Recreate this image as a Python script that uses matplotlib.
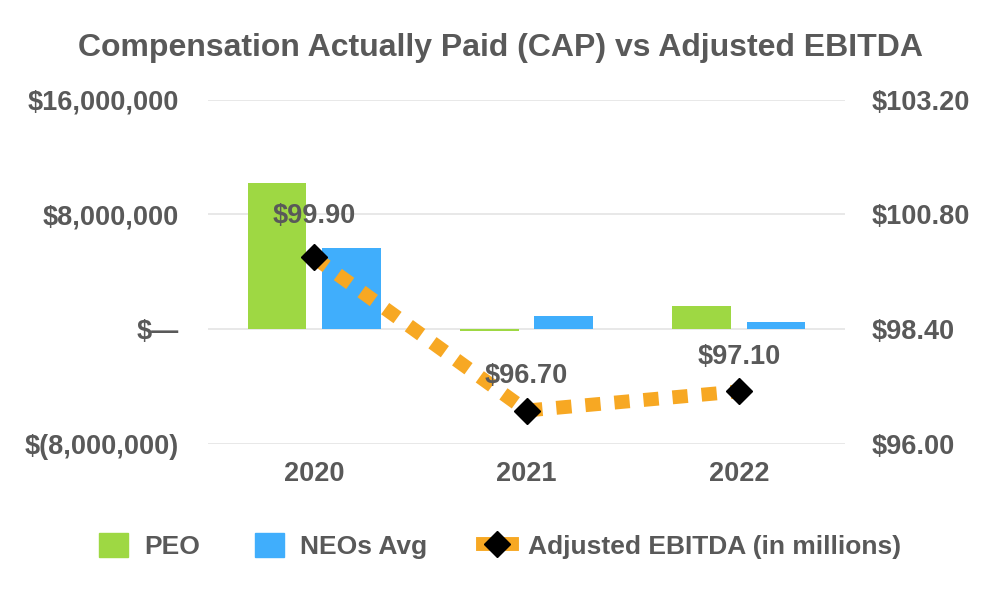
import numpy as np
import matplotlib.pyplot as plt
from matplotlib.lines import Line2D
from matplotlib.patches import Patch

# data
years = ['2020', '2021', '2022']
peo = [10200000, -120000, 1600000]
neos_avg = [5650000, 900000, 480000]
ebitda = [99.90, 96.70, 97.10]
ebitda_labels = ['$99.90', '$96.70', '$97.10']

left_ticks = [-8000000, 0, 8000000, 16000000]
left_labels = ['$(8,000,000)', '$\u2014', '$8,000,000', '$16,000,000']
right_ticks = [96.00, 98.40, 100.80, 103.20]
right_labels = ['$96.00', '$98.40', '$100.80', '$103.20']

green = '#9ED843'
blue = '#40AEFC'
orange = '#F7A823'
grey = '#595959'

plt.rcParams['font.family'] = ['Liberation Sans', 'DejaVu Sans']
plt.rcParams['font.weight'] = 'bold'

fig = plt.figure(figsize=(10, 6), dpi=100)
ax = fig.add_axes([0.208, 0.26, 0.637, 0.574])
x = np.arange(len(years))
w = 0.275

ax.bar(x - 0.175, peo, w, color=green, zorder=2)
ax.bar(x + 0.175, neos_avg, w, color=blue, zorder=2)
ax.set_ylim(-8000000, 16000000)
ax.set_xlim(-0.5, 2.5)
ax.set_yticks(left_ticks)
ax.set_yticklabels(left_labels)
ax.set_xticks(x)
ax.set_xticklabels(years)
ax.grid(axis='y', color='#E4E4E4', lw=1.2, zorder=0)
for s in ax.spines.values():
    s.set_visible(False)
ax.tick_params(length=0, labelsize=19.5, labelcolor=grey, pad=21)
ax.tick_params(axis='x', pad=12)

ax2 = ax.twinx()
ax2.plot(x, ebitda, color=orange, lw=10, ls=(0, (1.1, 1.0)), zorder=3)
ax2.plot(x, ebitda, ls='none', marker='D', ms=13, color='black', zorder=4)
ax2.set_ylim(96.0, 103.2)
ax2.set_yticks(right_ticks)
ax2.set_yticklabels(right_labels)
for s in ax2.spines.values():
    s.set_visible(False)
ax2.tick_params(length=0, labelsize=19.5, labelcolor=grey, pad=19.5)
offs = [30, 25, 25]
for xi, yi, lab, o in zip(x, ebitda, ebitda_labels, offs):
    ax2.annotate(lab, (xi, yi), xytext=(0, o), textcoords='offset points',
                 ha='center', va='center', fontsize=19.5, color=grey, fontweight='bold')

fig.suptitle('Compensation Actually Paid (CAP) vs Adjusted EBITDA', y=0.945,
             fontsize=23, color=grey, fontweight='bold')

handles = [Patch(color=green), Patch(color=blue),
           Line2D([], [], color=orange, lw=10, marker='D', ms=13, mfc='black', mec='black')]
fig.legend(handles, ['PEO', 'NEOs Avg', 'Adjusted EBITDA (in millions)'],
           loc='center', bbox_to_anchor=(0.5, 0.09), ncol=3, frameon=False,
           fontsize=19, labelcolor=grey, handlelength=1.1, handleheight=1.0,
           columnspacing=2.1, handletextpad=0.6)

fig.savefig('out.png')
